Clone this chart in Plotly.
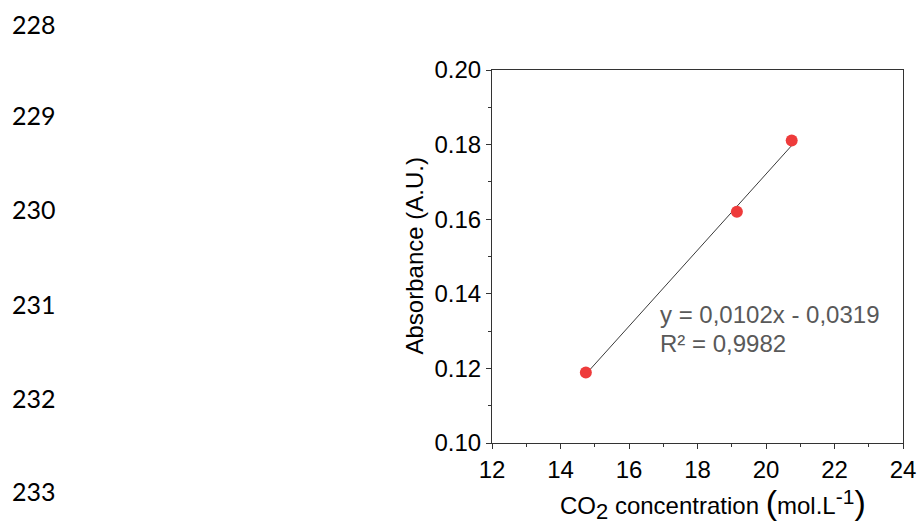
import plotly.graph_objects as go

# Data
co2_conc = [14.74, 19.15, 20.75]
absorbance = [0.1189, 0.1620, 0.1811]
slope = 0.0102
intercept = -0.0319
r2_text = "R² = 0,9982"
eq_text = "y = 0,0102x - 0,0319"
line_numbers = ["228", "229", "230", "231", "232", "233"]
line_number_y = [24, 115.5, 209, 304, 398, 491]  # px from top
x_ticks = [12, 14, 16, 18, 20, 22, 24]
y_ticks = [0.10, 0.12, 0.14, 0.16, 0.18, 0.20]

W, H = 917, 522
L, R, T, B = 492, 14, 70, 79

fit_x = [min(co2_conc), max(co2_conc)]
fit_y = [slope * v + intercept for v in fit_x]

fig = go.Figure()
fig.add_trace(go.Scatter(x=fit_x, y=fit_y, mode="lines",
                         line=dict(color="#3a3a3a", width=1), showlegend=False,
                         hoverinfo="skip"))
fig.add_trace(go.Scatter(x=co2_conc, y=absorbance, mode="markers",
                         marker=dict(color="#EE3B3B", size=12, line=dict(width=0)),
                         showlegend=False))

font_main = "Liberation Sans, Arial, sans-serif"

fig.update_layout(
    width=W, height=H, autosize=False,
    margin=dict(l=L, r=R, t=T, b=B, pad=0),
    paper_bgcolor="white", plot_bgcolor="white",
    font=dict(family=font_main, size=24, color="black"),
    xaxis=dict(range=[12, 24], tickvals=x_ticks, ticks="outside", ticklen=5,
               tickwidth=1.2, tickcolor="#333", showgrid=False, zeroline=False,
               showline=True, linecolor="#333", linewidth=1.2, mirror=True, automargin=False,
               minor=dict(dtick=1, ticks="outside", ticklen=3, tickwidth=1, tickcolor="#333", showgrid=False),
               tickfont=dict(size=24, family=font_main)),
    yaxis=dict(range=[0.10, 0.20], tickvals=y_ticks, tickformat=".2f", ticks="outside", ticklen=5,
               tickwidth=1.2, tickcolor="#333", showgrid=False, zeroline=False,
               showline=True, linecolor="#333", linewidth=1.2, mirror=True, automargin=False,
               minor=dict(dtick=0.01, ticks="outside", ticklen=3, tickwidth=1, tickcolor="#333", showgrid=False),
               tickfont=dict(size=24, family=font_main)),
)

ann = []
# equation annotations
ann.append(dict(x=16.85, y=0.1344, xref="x", yref="y", text=eq_text, showarrow=False,
                xanchor="left", yanchor="middle", font=dict(size=24, color="#595959", family=font_main)))
ann.append(dict(x=16.85, y=0.1267, xref="x", yref="y", text=r2_text, showarrow=False,
                xanchor="left", yanchor="middle", font=dict(size=24, color="#595959", family=font_main)))
# axis titles
ann.append(dict(x=(713 - L) / (W - L - R), y=(H - B - 503) / (H - T - B), xref="paper", yref="paper",
                text=('CO<sub><span style="font-size:22px">2</span></sub> concentration '
                      '<span style="font-size:34px">(</span>mol.L<sup><span style="font-size:21px">-1</span></sup>'
                      '<span style="font-size:34px">)</span>'),
                showarrow=False, xanchor="center", yanchor="middle",
                font=dict(size=24, color="black", family=font_main)))
ann.append(dict(x=(414 - L) / (W - L - R), y=0.5, xref="paper", yref="paper",
                text="Absorbance (A.U.)", textangle=-90, showarrow=False,
                xanchor="center", yanchor="middle",
                font=dict(size=24, color="black", family=font_main)))
# line numbers
for lab, py in zip(line_numbers, line_number_y):
    ann.append(dict(x=(10 - L) / (W - L - R), y=(H - B - py) / (H - T - B), xref="paper", yref="paper",
                    text=lab, showarrow=False, xanchor="left", yanchor="middle",
                    font=dict(size=25, color="black", family="Lato, Carlito, sans-serif")))
fig.update_layout(annotations=ann)

fig.write_html("out.html",
               config={"displayModeBar": False, "responsive": False},
               post_script="document.body.style.margin='0px';document.body.style.padding='0px';")
